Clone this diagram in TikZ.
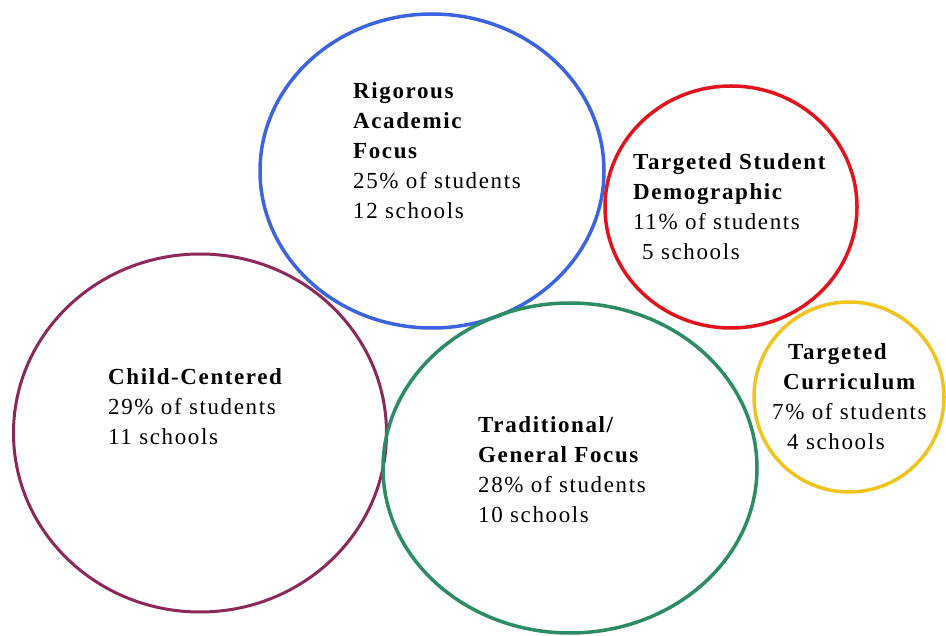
\documentclass[tikz,border=0pt]{standalone}
\usepackage{fontspec}
\setmainfont{Liberation Serif}[LetterSpace=7]
\usetikzlibrary{shapes.geometric}
\definecolor{cblue}{RGB}{60,100,225}
\definecolor{cred}{RGB}{225,20,30}
\definecolor{cyellow}{RGB}{240,195,30}
\definecolor{cpurple}{RGB}{140,40,90}
\definecolor{cgreen}{RGB}{45,140,100}
\tikzset{
  ring/.style={ellipse, draw, line width=3.5pt, inner sep=0pt},
  label/.style={anchor=north west, inner sep=0pt, align=left, text=black,
    font=\fontsize{23}{30}\selectfont},
}
\begin{document}
\begin{tikzpicture}[x=1pt,y=-1pt]
\useasboundingbox (0,0) rectangle (946,636);
\fill[white] (0,0) rectangle (946,636);
\node[ring, cpurple, line width=3pt, minimum width=373pt, minimum height=358pt] (child) at (200,433) {};
\node[ring, cblue, minimum width=344pt, minimum height=314pt] (rig) at (432,171) {};
\node[ring, cgreen, minimum width=374pt, minimum height=330pt] (trad) at (570,468) {};
\node[ring, cred, minimum width=252pt, minimum height=242pt] (demo) at (731,207) {};
\node[ring, cyellow, minimum width=190pt, minimum height=190pt] (curr) at (849,397) {};
\node[label] (trig) at (353,82) {\textbf{Rigorous}\\\textbf{Academic}\\\textbf{Focus}\\25\% of students\\12 schools};
\node[label] (tdemo) at (633,153) {\textbf{Targeted Student}\\\textbf{Demographic}\\11\% of students\\\hspace*{9pt}5 schools};
\node[label] (tcurr) at (772,343) {\hspace*{16pt}\textbf{Targeted}\\\hspace*{11pt}\textbf{Curriculum}\\7\% of students\\\hspace*{15pt}4 schools};
\node[label] (tchild) at (108,368) {\textbf{Child-Centered}\\29\% of students\\11 schools};
\node[label] (ttrad) at (478,416) {\textbf{Traditional/}\\\textbf{General Focus}\\28\% of students\\10 schools};
\end{tikzpicture}
\end{document}
